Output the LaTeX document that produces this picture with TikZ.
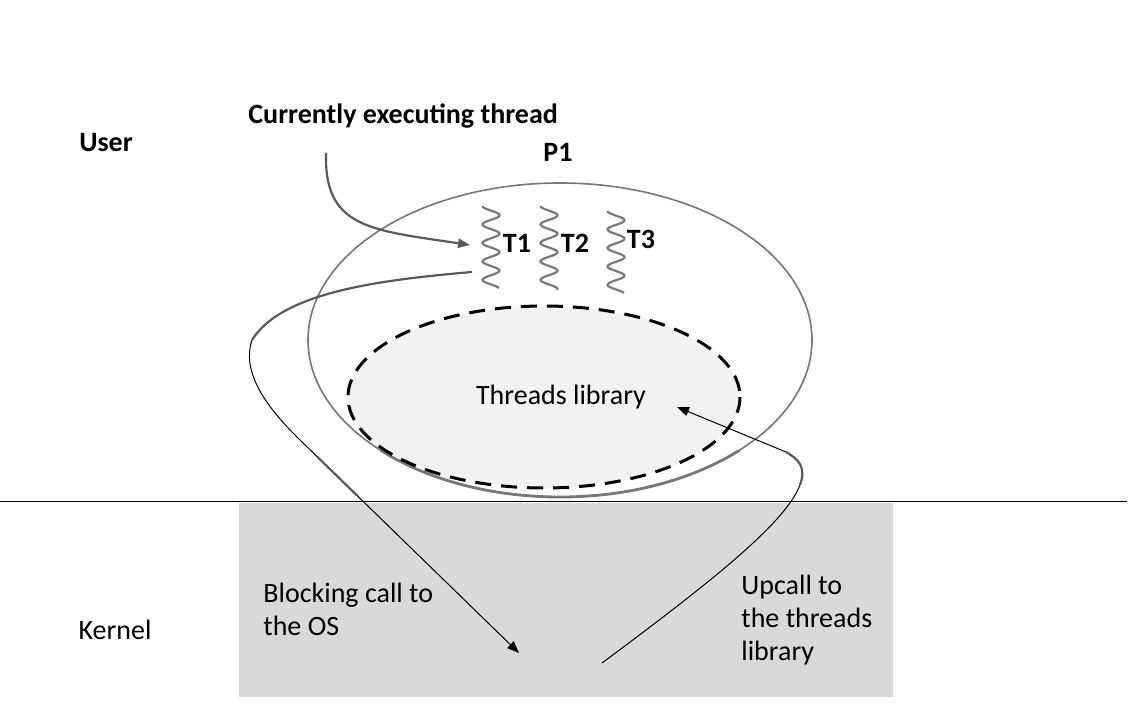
\documentclass[tikz,border=0pt]{standalone}
\usepackage{fontspec}
\setmainfont{Carlito}
\usetikzlibrary{arrows.meta,calc}
\definecolor{kgray}{HTML}{D9D9D9}
\definecolor{libfill}{HTML}{F2F2F2}
\definecolor{wavec}{HTML}{7A7A7A}
\definecolor{curvec}{HTML}{5A5A5A}
\definecolor{ellc}{HTML}{777777}
\begin{document}
\begin{tikzpicture}[x=0.5pt,y=-0.5pt,
  lbl/.style={font=\fontsize{14}{16.5}\selectfont, inner sep=0pt},
  blbl/.style={font=\bfseries\fontsize{14}{16.5}\selectfont, inner sep=0pt},
  thr/.style={draw=wavec, line width=1.1pt},
  tip/.style={-{Triangle[length=6pt,width=4.6pt]}},
  thin/.style={draw=black, line width=0.5pt},
  thick/.style={draw=curvec, line width=1.1pt}]
\useasboundingbox (0,0) rectangle (1136,706);
\fill[white] (0,0) rectangle (1136,706);

% kernel region
\fill[kgray] (239,503) rectangle (893,697);
\draw[line width=0.6pt] (0,501.5) -- (1127,501.5);

% process ellipse
\draw[draw=ellc, line width=0.8pt] (560,340) ellipse [x radius=252, y radius=157];
\begin{scope}
  \clip (380,450) rectangle (740,500);
  \draw[draw=ellc, line width=1.4pt] (560,340) ellipse [x radius=252, y radius=157];
\end{scope}

% threads library
\draw[fill=libfill, line width=1.5pt, dash pattern=on 8pt off 5pt] (544,397) ellipse [x radius=196, y radius=91];
\node[lbl] (lib) at (561,397) {Threads library};

% labels
\node[blbl] (user) at (106,143) {User};
\node[lbl] (kernel) at (115,630) {Kernel};
\node[blbl, anchor=west] (cur) at (248,116) {Currently executing thread};
\node[blbl] (p1) at (558,152) {P1};

% threads
\draw[thr] plot[domain=0:82, samples=120, smooth] ({491-8.5*cos(\x*19.5)}, {206+\x});
\draw[thr] plot[domain=0:84, samples=120, smooth] ({549-8.5*cos(\x*19.5)}, {206+\x});
\draw[thr] plot[domain=0:82, samples=120, smooth] ({616-8.5*cos(\x*19.5)}, {211+\x});
\node[blbl] (t1) at (517,243) {T1};
\node[blbl] (t2) at (575,243) {T2};
\node[blbl] (t3) at (641,239) {T3};

% currently executing arrow
\coordinate (cstart) at (326,153);
\coordinate (t1in) at (470,245);
\draw[thick, tip] (cstart) .. controls (324,228) and (370,230) .. (t1in);

% blocking call
\coordinate (bstart) at (472,272);
\coordinate (bloop) at (252,340);
\coordinate (bbend) at (300,440);
\coordinate (btip) at (519,653);
\draw[thick] (bstart) .. controls (380,280) and (282,292) .. (bloop);
\draw[thin, tip] (bloop) .. controls (242,370) and (262,403) .. (bbend) -- (btip);
\draw[thick] ($(bbend)!0.08!(btip)$) -- ($(bbend)!0.26!(btip)$);

% upcall
\coordinate (ustart) at (602,663);
\coordinate (utop) at (800,485);
\coordinate (ubend) at (786,452);
\coordinate (libtip) at (677,407);
\draw[thin] (ustart) .. controls (700,590) and (785,525) .. (utop);
\draw[thick] (utop) .. controls (806,468) and (800,460) .. (ubend);
\draw[thin, tip] (ubend) -- (libtip);

\node[lbl, align=left, anchor=north west] (block) at (263,583) {Blocking call to\\the OS};
\node[lbl, align=left, anchor=west] (up) at (741,620) {Upcall to\\the threads\\library};
\end{tikzpicture}
\end{document}
